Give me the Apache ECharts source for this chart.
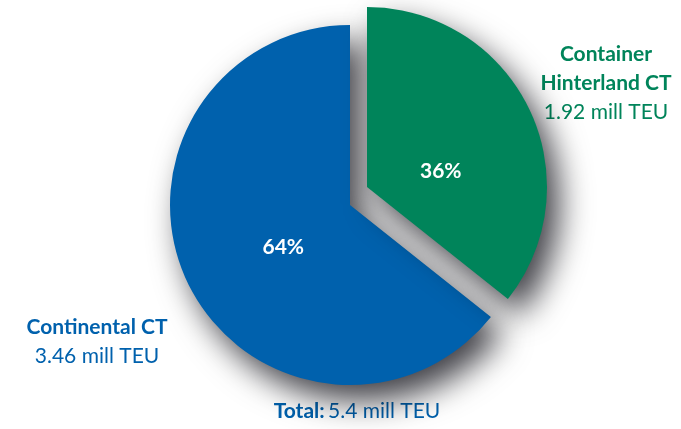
<!DOCTYPE html>
<html lang="en">
<head>
    <meta charset="UTF-8">
    <title>Container volumes</title>
    <script type="text/javascript" src="https://cdn.jsdelivr.net/npm/echarts@6/dist/echarts.min.js"></script>
    <style>
        html, body { margin: 0; padding: 0; background: #fff; }
    </style>
</head>
<body>
<div id="main" style="width:681px;height:429px;"></div>
<script type="text/javascript">
    // data
    var names = ['Container Hinterland CT', 'Continental CT'];
    var values = [1.92, 3.46];
    var total = 5.4;
    var colors = ['#00845a', '#0061ad'];

    var FONT = 'Lato';
    var SIZE = 21;
    var shadow = {
        shadowBlur: 32,
        shadowOffsetX: 12,
        shadowOffsetY: 16,
        shadowColor: 'rgba(0,0,10,0.75)'
    };

    // one series per visible slice, so the exploded slice can be moved on its own
    function buildData(visibleIndex) {
        var list = [];
        for (var i = 0; i < names.length; i++) {
            var on = i === visibleIndex;
            list.push({
                name: names[i],
                value: values[i],
                itemStyle: on ? Object.assign({color: colors[i]}, shadow)
                    : {color: 'rgba(0,0,0,0)', shadowColor: 'rgba(0,0,0,0)'},
                label: {show: on}
            });
        }
        return list;
    }

    var labelShift = [[-10, 25], [17, 2]];

    function pieSeries(center, visibleIndex) {
        return {
            type: 'pie',
            center: center,
            radius: 180,
            startAngle: 90,
            clockwise: true,
            percentPrecision: 0,
            silent: true,
            animation: false,
            label: {
                position: 'inside',
                formatter: '{d}%',
                color: '#fff',
                fontFamily: FONT,
                fontSize: SIZE,
                fontWeight: 'bold'
            },
            labelLine: {show: false},
            labelLayout: function (p) {
                return {dx: labelShift[p.dataIndex][0], dy: labelShift[p.dataIndex][1]};
            },
            emphasis: {disabled: true},
            data: buildData(visibleIndex)
        };
    }

    function richFor(color, lh) {
        return {
            b: {fontFamily: FONT, fontSize: SIZE, fontWeight: 'bold', lineHeight: lh, fill: color, align: 'center'},
            n: {fontFamily: FONT, fontSize: SIZE, lineHeight: lh, fill: color, align: 'center'}
        };
    }

    var myChart = echarts.init(document.getElementById('main'));
    var option = {
        backgroundColor: '#fff',
        series: [
            pieSeries([350, 205], 1),
            pieSeries([367, 187], 0)
        ],
        graphic: [
            {
                type: 'text', x: 606, y: 40,
                style: {
                    text: '{b|Container}\n{b|Hinterland CT}\n{n|' + values[0] + ' mill TEU}',
                    align: 'center', verticalAlign: 'top',
                    rich: richFor(colors[0], 29)
                }
            },
            {
                type: 'text', x: 97, y: 313,
                style: {
                    text: '{b|Continental CT}\n{n|' + values[1] + ' mill TEU}',
                    align: 'center', verticalAlign: 'top',
                    rich: richFor(colors[1], 29)
                }
            },
            {
                type: 'text', x: 357, y: 401,
                style: {
                    text: '{b|Total:} {n|' + total + ' mill TEU}',
                    align: 'center', verticalAlign: 'top',
                    fill: colors[1],
                    rich: {
                        b: {fontFamily: FONT, fontSize: SIZE, fontWeight: 'bold', fill: colors[1]},
                        n: {fontFamily: FONT, fontSize: SIZE, fill: colors[1]}
                    }
                }
            }
        ]
    };
    myChart.setOption(option);
</script>
</body>
</html>
